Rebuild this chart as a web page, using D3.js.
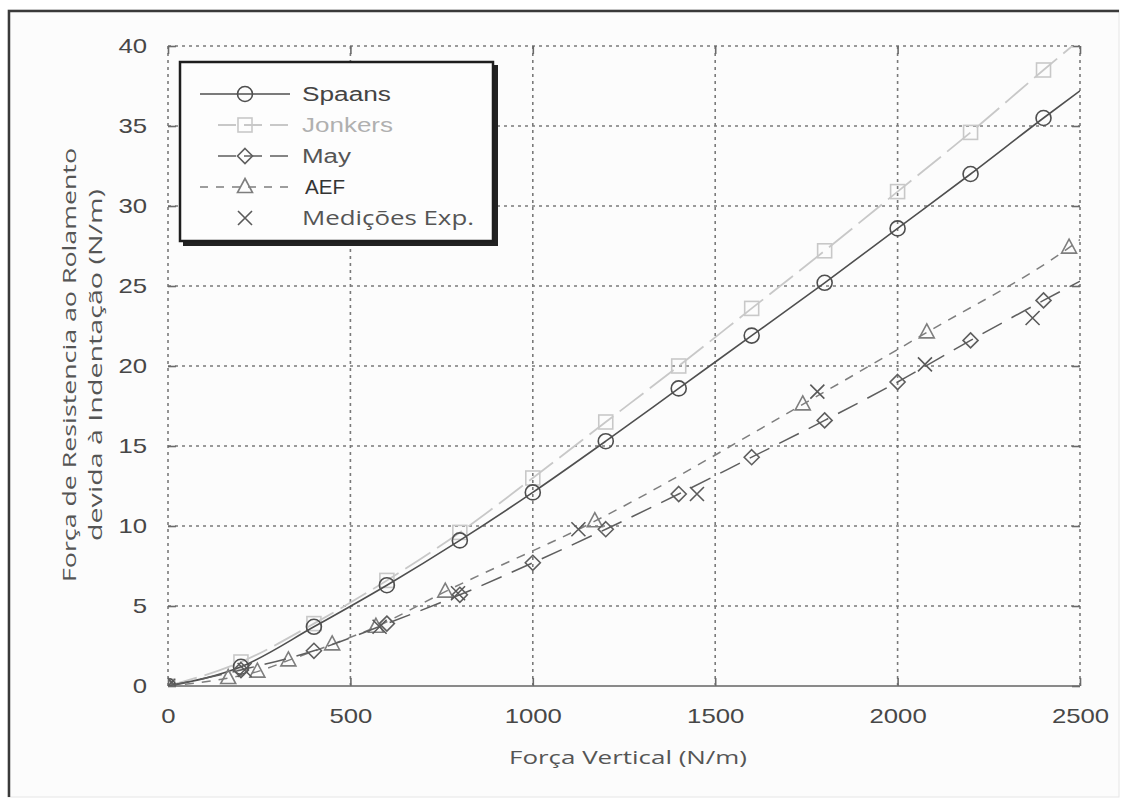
<!DOCTYPE html>
<html>
<head>
<meta charset="utf-8">
<script src="https://cdn.jsdelivr.net/npm/d3@7"></script>
<style>
  body { margin: 0; background: #ffffff; }
  svg { display: block; }
</style>
</head>
<body>
<svg id="chart"></svg>
<script>
// data
const forces = [0, 200, 400, 600, 800, 1000, 1200, 1400, 1600, 1800, 2000, 2200, 2400];
const spaans = [0, 1.2, 3.7, 6.3, 9.1, 12.1, 15.3, 18.6, 21.9, 25.2, 28.6, 32.0, 35.5];
const jonkers = [0, 1.5, 3.9, 6.6, 9.6, 13.0, 16.5, 20.0, 23.6, 27.2, 30.9, 34.6, 38.5];
const may = [0, 1.0, 2.2, 3.9, 5.7, 7.7, 9.8, 12.0, 14.3, 16.6, 19.0, 21.6, 24.1];
// value of each curve where it leaves the plot (x = 2500), no marker there
const lineEnds = { spaans: 37.2, jonkers: 40.4, may: 25.3, aef: 27.9 };

const aefForce = [0, 165, 245, 330, 450, 570, 760, 1170, 1740, 2080, 2470];
const aef = [0, 0.5, 0.9, 1.6, 2.6, 3.7, 5.9, 10.3, 17.6, 22.1, 27.4];

const expForce = [0, 210, 580, 795, 1125, 1450, 1780, 2075, 2370];
const expValues = [0, 1.0, 3.7, 5.8, 9.8, 12.0, 18.4, 20.1, 23.0];

const xTicks = [0, 500, 1000, 1500, 2000, 2500];
const yTicks = [0, 5, 10, 15, 20, 25, 30, 35, 40];

const seriesNames = ['Spaans', 'Jonkers', 'May', 'AEF', 'Medições Exp.'];

const svgWidth = 1123;
const svgHeight = 802;
const plot = { left: 168, right: 1080, top: 46, bottom: 686 };

let svg = d3.select('#chart')
  .attr('width', svgWidth)
  .attr('height', svgHeight);

// outer frame (screenshot border)
svg.append('rect')
  .attr('x', 8).attr('y', 10)
  .attr('width', 1111).attr('height', 787)
  .attr('fill', '#fcfcfc')
  .attr('stroke', '#e6e6e6');
svg.append('path')
  .attr('d', 'M9,797 V11 H1119')
  .attr('fill', 'none')
  .attr('stroke', '#3a3a3a')
  .attr('stroke-width', 2.5);

let xScale = d3.scaleLinear()
  .domain([0, 2500])
  .range([plot.left, plot.right]);

let yScale = d3.scaleLinear()
  .domain([0, 40])
  .range([plot.bottom, plot.top]);

// dotted grid
let grid = svg.append('g')
  .attr('stroke', '#7a7a7a')
  .attr('stroke-width', 1.6)
  .attr('stroke-dasharray', '3,4');

grid.selectAll('.gx')
  .data(xTicks)
  .enter().append('line')
  .attr('x1', d => xScale(d)).attr('x2', d => xScale(d))
  .attr('y1', plot.top).attr('y2', plot.bottom);

grid.selectAll('.gy')
  .data(yTicks.slice(1))
  .enter().append('line')
  .attr('x1', plot.left).attr('x2', plot.right)
  .attr('y1', d => yScale(d)).attr('y2', d => yScale(d));

// inward ticks on all four sides
let x_axis = d3.axisBottom(xScale).tickValues(xTicks).tickSize(-8).tickPadding(22).tickFormat(d => d);
let y_axis = d3.axisLeft(yScale).tickValues(yTicks).tickSize(-8).tickPadding(21).tickFormat(d => d);

let gx = svg.append('g')
  .attr('transform', 'translate(0, ' + plot.bottom + ')')
  .call(x_axis);

let gy = svg.append('g')
  .attr('transform', 'translate(' + plot.left + ', 0)')
  .call(y_axis);

svg.append('g')
  .attr('transform', 'translate(0, ' + plot.top + ')')
  .call(d3.axisTop(xScale).tickValues(xTicks).tickSize(-8).tickFormat(''))
  .select('.domain').remove();

svg.append('g')
  .attr('transform', 'translate(' + plot.right + ', 0)')
  .call(d3.axisRight(yScale).tickValues(yTicks).tickSize(-8).tickFormat(''))
  .select('.domain').remove();

gy.select('.domain').remove();
gx.select('.domain')
  .attr('d', 'M' + plot.left + ',0H' + plot.right)
  .attr('stroke', '#8a8a8a')
  .attr('stroke-width', 2.2);

svg.selectAll('.tick line')
  .attr('stroke', '#6a6a6a')
  .attr('stroke-width', 1.6);

svg.selectAll('.tick text')
  .attr('fill', '#474747')
  .style('font-family', '"Liberation Sans", Arial, sans-serif')
  .style('font-size', '21px')
  .attr('textLength', function () { return this.textContent.length * 14.3; })
  .attr('lengthAdjust', 'spacingAndGlyphs');

// axis titles
svg.append('text')
  .attr('x', 628).attr('y', 764)
  .attr('text-anchor', 'middle')
  .attr('fill', '#555')
  .attr('textLength', 238)
  .attr('lengthAdjust', 'spacingAndGlyphs')
  .style('font-family', '"Open Sans", sans-serif')
  .style('font-size', '19px')
  .text('Força Vertical (N/m)');

let yTitle = svg.append('text')
  .attr('transform', 'translate(0, 365) rotate(-90)')
  .attr('text-anchor', 'middle')
  .attr('fill', '#555')
  .style('font-family', '"Open Sans", sans-serif')
  .style('font-size', '19px');

yTitle.append('tspan')
  .attr('x', 0).attr('y', 76)
  .attr('textLength', 434)
  .attr('lengthAdjust', 'spacingAndGlyphs')
  .text('Força de Resistencia ao Rolamento');

yTitle.append('tspan')
  .attr('x', 0).attr('y', 102)
  .attr('textLength', 352)
  .attr('lengthAdjust', 'spacingAndGlyphs')
  .text('devida à Indentação (N/m)');

// curves
svg.append('clipPath').attr('id', 'clip')
  .append('rect')
  .attr('x', plot.left).attr('y', plot.top)
  .attr('width', plot.right - plot.left).attr('height', plot.bottom - plot.top);

let line = d3.line()
  .x(d => xScale(d[0]))
  .y(d => yScale(d[1]))
  .curve(d3.curveMonotoneX);

let styles = {
  Spaans: { color: '#4f4f4f', dash: null, width: 1.6, marker: 'circle' },
  Jonkers: { color: '#c8c8c8', dash: '30,8', width: 1.8, marker: 'square' },
  May: { color: '#5e5e5e', dash: '22,11', width: 1.5, marker: 'diamond' },
  AEF: { color: '#7e7e7e', dash: '9,8', width: 1.5, marker: 'triangle' },
  'Medições Exp.': { color: '#5a5a5a', dash: null, width: 1.5, marker: 'cross' }
};

let curves = [
  { name: 'Spaans', pts: forces.map((f, i) => [f, spaans[i]]), end: lineEnds.spaans },
  { name: 'Jonkers', pts: forces.map((f, i) => [f, jonkers[i]]), end: lineEnds.jonkers },
  { name: 'May', pts: forces.map((f, i) => [f, may[i]]), end: lineEnds.may },
  { name: 'AEF', pts: aefForce.map((f, i) => [f, aef[i]]), end: lineEnds.aef }
];

let plotArea = svg.append('g').attr('clip-path', 'url(#clip)');

function drawMarker(g, type, cx, cy, color) {
  let m = g.append('g')
    .attr('transform', 'translate(' + cx + ',' + cy + ')')
    .attr('fill', 'none')
    .attr('stroke', color)
    .attr('stroke-width', 1.6);
  if (type === 'circle') {
    m.append('circle').attr('r', 7.5);
  } else if (type === 'square') {
    m.append('rect').attr('x', -7).attr('y', -7).attr('width', 14).attr('height', 14);
  } else if (type === 'diamond') {
    m.append('path').attr('d', 'M0,-7.5L7.5,0L0,7.5L-7.5,0Z');
  } else if (type === 'triangle') {
    m.append('path').attr('d', 'M0,-8.5L7.5,5.5L-7.5,5.5Z');
  } else {
    m.append('path').attr('d', 'M-7,-7L7,7M7,-7L-7,7');
  }
}

// draw the light curves first so the dark ones stay on top
[1, 0, 3, 2].forEach(k => {
  let c = curves[k];
  let s = styles[c.name];
  plotArea.append('path')
    .datum(c.pts.concat([[2500, c.end]]))
    .attr('d', line)
    .attr('fill', 'none')
    .attr('stroke', s.color)
    .attr('stroke-width', s.width)
    .attr('stroke-dasharray', s.dash);
  c.pts.forEach(p => drawMarker(plotArea, s.marker, xScale(p[0]), yScale(p[1]), s.color));
});

expForce.forEach((f, i) => {
  drawMarker(plotArea, 'cross', xScale(f), yScale(expValues[i]), styles['Medições Exp.'].color);
});

// legend
let legend = svg.append('g');

legend.append('rect')
  .attr('x', 183).attr('y', 65)
  .attr('width', 315).attr('height', 181)
  .attr('fill', '#222');

legend.append('rect')
  .attr('x', 180).attr('y', 62)
  .attr('width', 313).attr('height', 179)
  .attr('fill', '#fdfdfd')
  .attr('stroke', '#1e1e1e')
  .attr('stroke-width', 2.5);

let legendText = {
  Spaans: { fill: '#444', len: 89, font: '"Liberation Sans", Arial, sans-serif' },
  Jonkers: { fill: '#b0b0b0', len: 91, font: '"Liberation Sans", Arial, sans-serif' },
  May: { fill: '#555', len: 49, font: '"Liberation Sans", Arial, sans-serif' },
  AEF: { fill: '#333', len: 40, font: '"Liberation Sans", Arial, sans-serif' },
  'Medições Exp.': { fill: '#555', len: 172, font: '"Open Sans", sans-serif' }
};

seriesNames.forEach((name, i) => {
  let s = styles[name];
  let t = legendText[name];
  let cy = 94 + i * 31;
  if (name !== 'Medições Exp.') {
    legend.append('line')
      .attr('x1', name === 'Spaans' || name === 'AEF' ? 200 : 218)
      .attr('x2', 290)
      .attr('y1', cy).attr('y2', cy)
      .attr('stroke', s.color)
      .attr('stroke-width', s.width)
      .attr('stroke-dasharray', name === 'Spaans' ? null : (name === 'AEF' ? '8,8' : '18,8'));
  }
  drawMarker(legend, s.marker, 245, cy, s.color);
  legend.append('text')
    .attr('x', name === 'AEF' ? 305 : 302)
    .attr('y', cy + 7)
    .attr('fill', t.fill)
    .attr('textLength', t.len)
    .attr('lengthAdjust', 'spacingAndGlyphs')
    .style('font-family', t.font)
    .style('font-size', '20px')
    .text(name);
});
</script>
</body>
</html>
